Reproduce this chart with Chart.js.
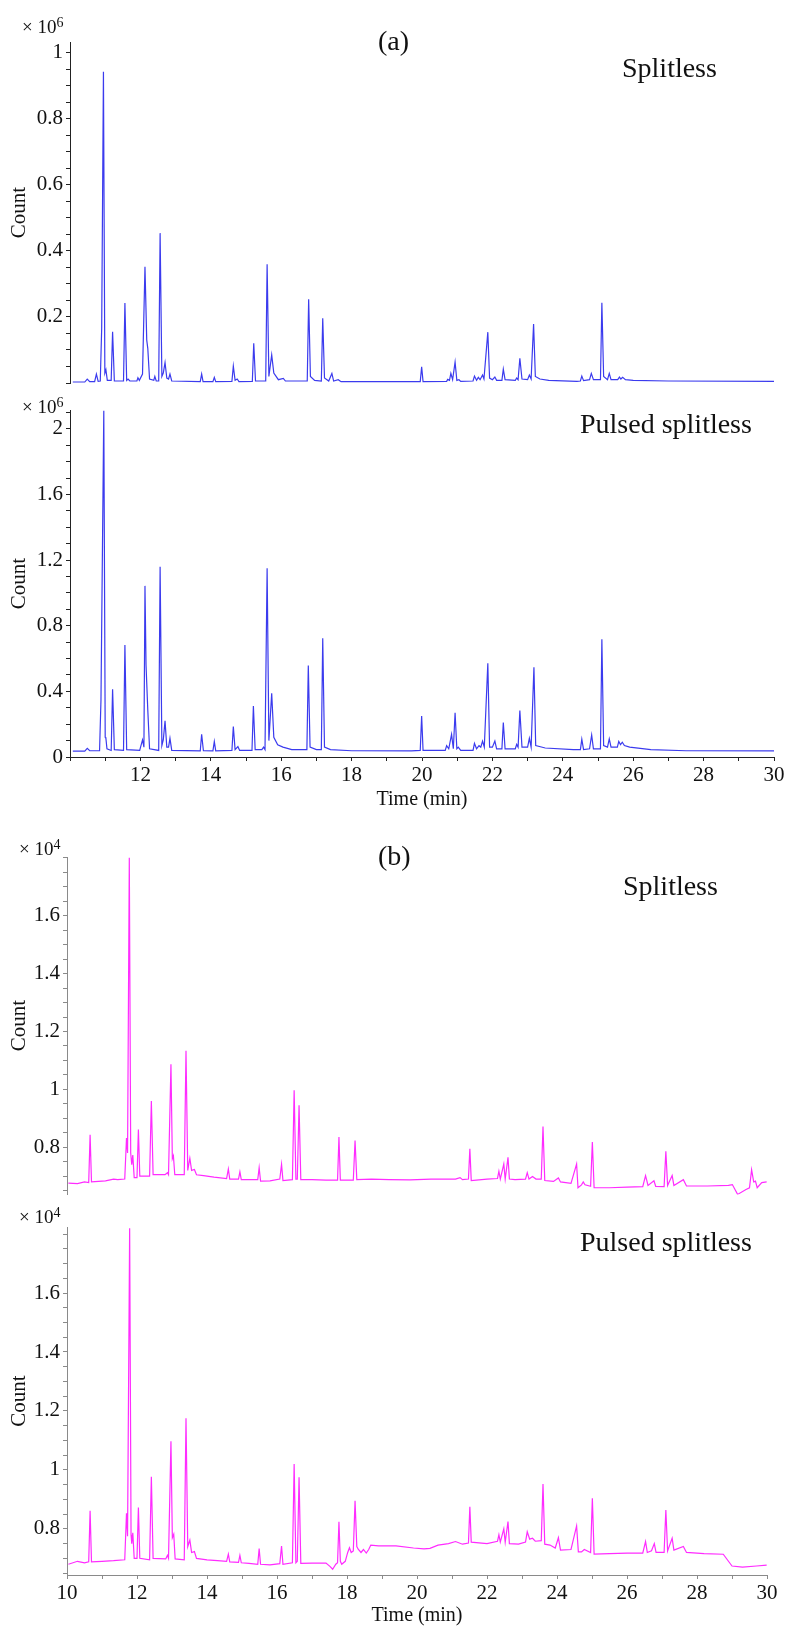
<!DOCTYPE html>
<html>
<head>
<meta charset="utf-8">
<script src="https://cdn.jsdelivr.net/npm/chart.js@4.4.1/dist/chart.umd.min.js"></script>
<style>
  body { margin: 0; background: #fff; }
  #page { position: relative; width: 789px; height: 1626px; overflow: hidden; font-family: "Liberation Serif", "Times New Roman", serif; color: #111; }
  #page canvas { position: absolute; left: 0; }
  .lbl { position: absolute; white-space: nowrap; font-size: 28px; line-height: 28px; }
  .mult { position: absolute; white-space: nowrap; font-size: 19px; line-height: 19px; }
  .mult sup { font-size: 14px; vertical-align: 6px; line-height: 0; }
</style>
</head>
<body>
<div id="page">
  <canvas id="aSplit" width="789" height="380" style="top:20px"></canvas>
  <canvas id="aPulsed" width="789" height="418" style="top:392px"></canvas>
  <canvas id="bSplit" width="789" height="375" style="top:835px"></canvas>
  <canvas id="bPulsed" width="789" height="421" style="top:1205px"></canvas>

  <div class="lbl" style="left:378px;top:27px">(a)</div>
  <div class="lbl" style="left:622px;top:54px">Splitless</div>
  <div class="lbl" style="left:580px;top:410px">Pulsed splitless</div>
  <div class="lbl" style="left:378px;top:842px">(b)</div>
  <div class="lbl" style="left:623px;top:872px">Splitless</div>
  <div class="lbl" style="left:580px;top:1228px">Pulsed splitless</div>

  <div class="mult" style="left:22px;top:17px">× 10<sup>6</sup></div>
  <div class="mult" style="left:22px;top:397px">× 10<sup>6</sup></div>
  <div class="mult" style="left:19px;top:839px">× 10<sup>4</sup></div>
  <div class="mult" style="left:19px;top:1207px">× 10<sup>4</sup></div>
</div>

<script>
// ---- (a) chromatograms, counts in units of 10^6 ----
const aSplitTime = [10.08,10.42,10.49,10.56,10.70,10.75,10.80,10.86,10.90,10.95,10.99,11.02,11.06,11.17,11.21,11.26,
  11.52,11.56,11.61,11.65,11.70,11.90,11.93,11.97,12.06,12.13,12.18,12.21,12.26,12.38,12.41,12.45,12.52,12.56,12.61,
  12.65,12.70,12.75,12.80,12.84,12.89,13.70,13.74,13.78,14.06,14.10,14.14,14.60,14.64,14.69,14.75,14.80,15.18,15.22,
  15.27,15.56,15.60,15.65,15.73,15.79,15.85,15.92,16.06,16.12,16.74,16.78,16.83,16.95,17.14,17.18,17.23,17.35,17.44,
  17.49,17.62,17.70,19.95,19.99,20.03,20.70,20.73,20.78,20.82,20.87,20.94,20.99,21.05,21.10,21.45,21.49,21.55,21.60,
  21.65,21.72,21.76,21.87,21.92,22.00,22.07,22.12,22.27,22.31,22.36,22.65,22.69,22.73,22.78,22.84,23.00,23.05,23.10,
  23.17,23.22,23.35,23.60,24.40,24.50,24.54,24.59,24.76,24.81,24.87,25.07,25.11,25.16,25.27,25.32,25.37,25.56,25.61,
  25.65,25.70,25.78,26.00,27.00,30.00];
const aSplitCount = [0.003,0.003,0.012,0.004,0.004,0.027,0.005,0.006,0.165,0.943,0.030,0.040,0.008,0.008,0.155,0.006,
  0.006,0.242,0.008,0.012,0.006,0.006,0.016,0.008,0.027,0.352,0.130,0.105,0.012,0.008,0.020,0.006,0.006,0.454,0.020,
  0.030,0.062,0.015,0.012,0.027,0.006,0.004,0.027,0.004,0.004,0.017,0.004,0.005,0.051,0.008,0.012,0.004,0.005,0.120,
  0.006,0.006,0.360,0.020,0.085,0.030,0.021,0.010,0.014,0.006,0.006,0.254,0.020,0.008,0.006,0.196,0.015,0.006,0.029,
  0.006,0.010,0.004,0.004,0.049,0.004,0.005,0.011,0.008,0.029,0.010,0.063,0.008,0.010,0.005,0.006,0.021,0.008,0.017,
  0.010,0.024,0.012,0.154,0.015,0.010,0.018,0.008,0.008,0.042,0.010,0.008,0.015,0.010,0.075,0.012,0.010,0.024,0.012,
  0.179,0.020,0.012,0.008,0.005,0.006,0.021,0.007,0.010,0.029,0.010,0.010,0.243,0.020,0.010,0.029,0.010,0.010,0.018,
  0.012,0.017,0.010,0.008,0.006,0.005];

const aPulsedTime = [10.08,10.42,10.49,10.56,10.84,10.88,10.96,11.00,11.02,11.05,11.17,11.21,11.26,11.52,11.56,11.61,
  11.98,12.06,12.10,12.13,12.16,12.21,12.26,12.52,12.56,12.61,12.65,12.70,12.75,12.80,12.84,12.89,13.70,13.74,13.79,
  14.06,14.10,14.14,14.60,14.64,14.69,14.77,14.82,15.17,15.21,15.26,15.45,15.50,15.54,15.60,15.65,15.73,15.79,15.90,
  16.05,16.30,16.73,16.77,16.82,17.00,17.14,17.18,17.23,17.40,18.00,19.70,19.95,19.99,20.03,20.66,20.70,20.76,20.84,
  20.89,20.94,20.99,21.03,21.10,21.45,21.49,21.55,21.62,21.67,21.72,21.77,21.87,21.92,22.00,22.07,22.12,22.27,22.31,
  22.36,22.65,22.69,22.73,22.78,22.84,23.00,23.05,23.10,23.18,23.23,23.50,24.30,24.50,24.54,24.59,24.76,24.82,24.87,
  25.07,25.11,25.16,25.27,25.32,25.37,25.55,25.59,25.64,25.69,25.75,25.90,26.50,27.50,30.00];
const aPulsedCount = [0.036,0.036,0.053,0.038,0.038,0.348,2.110,0.120,0.114,0.050,0.040,0.413,0.045,0.040,0.683,0.045,
  0.040,0.104,0.060,1.043,0.561,0.287,0.050,0.040,1.160,0.070,0.104,0.220,0.060,0.060,0.114,0.040,0.037,0.138,0.038,
  0.037,0.094,0.038,0.040,0.185,0.045,0.063,0.040,0.040,0.311,0.045,0.045,0.060,0.045,1.150,0.100,0.388,0.120,0.075,
  0.060,0.045,0.045,0.557,0.060,0.045,0.045,0.724,0.060,0.045,0.038,0.037,0.040,0.250,0.040,0.040,0.069,0.050,0.138,
  0.050,0.270,0.050,0.060,0.040,0.040,0.083,0.050,0.069,0.060,0.097,0.060,0.571,0.060,0.060,0.097,0.050,0.050,0.210,
  0.050,0.050,0.077,0.060,0.283,0.060,0.060,0.114,0.060,0.547,0.070,0.055,0.045,0.045,0.108,0.045,0.050,0.134,0.050,
  0.050,0.717,0.070,0.060,0.110,0.060,0.060,0.095,0.075,0.090,0.070,0.060,0.045,0.038,0.037];

// ---- (b) chromatograms, counts in units of 10^4 ----
const bSplitTime = [10.04,10.30,10.50,10.62,10.66,10.70,10.90,11.10,11.33,11.45,11.65,11.70,11.73,11.78,11.82,11.85,
  11.88,11.92,12.00,12.04,12.08,12.36,12.41,12.46,12.80,12.87,12.90,12.97,13.01,13.04,13.08,13.35,13.40,13.45,13.51,
  13.56,13.64,13.70,13.90,14.20,14.56,14.61,14.65,14.90,14.94,14.98,15.20,15.45,15.49,15.53,15.80,16.08,16.13,16.17,
  16.44,16.49,16.54,16.58,16.63,16.68,17.00,17.40,17.73,17.77,17.81,18.18,18.23,18.28,18.70,19.20,19.80,20.40,21.10,
  21.23,21.30,21.47,21.51,21.55,22.00,22.30,22.34,22.38,22.48,22.52,22.60,22.64,22.80,23.10,23.15,23.20,23.30,23.40,
  23.55,23.60,23.65,23.90,24.04,24.10,24.40,24.56,24.60,24.70,24.75,24.80,24.96,25.01,25.06,25.50,26.00,26.45,26.53,
  26.60,26.77,26.82,27.06,27.11,27.16,27.29,27.34,27.61,27.70,28.30,28.90,29.01,29.16,29.40,29.50,29.56,29.62,29.67,
  29.72,29.85,29.99];
const bSplitCount = [0.676,0.674,0.680,0.678,0.843,0.680,0.682,0.684,0.690,0.688,0.690,0.832,0.780,1.800,0.780,0.740,
  0.773,0.695,0.695,0.861,0.700,0.700,0.960,0.705,0.705,0.712,0.705,1.087,0.760,0.770,0.705,0.705,1.133,0.720,0.762,
  0.720,0.723,0.705,0.702,0.697,0.692,0.725,0.690,0.690,0.715,0.688,0.688,0.688,0.729,0.683,0.684,0.690,0.741,0.685,
  0.688,0.997,0.690,0.690,0.945,0.688,0.688,0.686,0.686,0.835,0.686,0.686,0.823,0.688,0.690,0.688,0.687,0.690,0.690,
  0.695,0.688,0.690,0.795,0.685,0.690,0.692,0.717,0.690,0.742,0.690,0.765,0.690,0.688,0.690,0.712,0.690,0.699,0.690,
  0.690,0.872,0.685,0.682,0.694,0.680,0.675,0.742,0.660,0.670,0.680,0.670,0.665,0.818,0.660,0.660,0.662,0.664,0.702,
  0.668,0.684,0.665,0.664,0.786,0.668,0.702,0.668,0.688,0.666,0.666,0.668,0.671,0.637,0.654,0.660,0.722,0.680,0.683,
  0.660,0.678,0.680];

const bPulsedTime = [10.04,10.30,10.50,10.62,10.66,10.70,11.00,11.33,11.65,11.70,11.73,11.79,11.83,11.85,11.88,11.92,
  12.00,12.04,12.08,12.36,12.41,12.46,12.82,12.87,12.90,12.97,13.01,13.05,13.09,13.35,13.40,13.45,13.51,13.56,13.64,
  13.70,14.00,14.30,14.56,14.61,14.65,14.90,14.94,14.98,15.20,15.45,15.49,15.53,15.80,16.08,16.13,16.17,16.44,16.49,
  16.54,16.58,16.63,16.68,17.00,17.40,17.52,17.59,17.68,17.73,17.77,17.81,17.85,17.95,18.02,18.07,18.12,18.18,18.23,
  18.28,18.32,18.40,18.47,18.55,18.62,18.68,18.90,19.40,19.90,20.20,20.37,20.60,20.90,21.10,21.30,21.47,21.51,21.55,
  22.00,22.30,22.34,22.38,22.48,22.52,22.60,22.64,22.90,23.10,23.15,23.22,23.30,23.38,23.55,23.60,23.65,23.80,23.95,
  24.04,24.10,24.40,24.56,24.61,24.70,24.78,24.96,25.01,25.06,25.50,26.00,26.45,26.53,26.58,26.70,26.78,26.83,27.06,
  27.11,27.16,27.29,27.34,27.61,27.70,28.20,28.75,29.00,29.30,29.70,29.99];
const bPulsedCount = [0.680,0.690,0.685,0.688,0.861,0.688,0.690,0.692,0.695,0.853,0.775,1.820,0.780,0.750,0.787,0.700,
  0.700,0.872,0.700,0.695,0.977,0.700,0.698,0.710,0.700,1.097,0.770,0.782,0.698,0.695,1.175,0.740,0.762,0.720,0.723,
  0.700,0.695,0.692,0.690,0.714,0.688,0.686,0.710,0.685,0.683,0.680,0.733,0.680,0.678,0.682,0.742,0.680,0.685,1.020,
  0.685,0.690,0.975,0.683,0.684,0.684,0.672,0.663,0.680,0.685,0.824,0.690,0.680,0.690,0.720,0.736,0.720,0.725,0.895,
  0.740,0.731,0.720,0.730,0.718,0.730,0.745,0.742,0.742,0.735,0.732,0.734,0.745,0.750,0.757,0.748,0.752,0.875,0.755,
  0.750,0.758,0.780,0.755,0.800,0.755,0.825,0.750,0.748,0.755,0.790,0.765,0.768,0.758,0.760,0.952,0.748,0.745,0.735,
  0.770,0.728,0.730,0.810,0.722,0.722,0.730,0.720,0.904,0.714,0.716,0.718,0.718,0.757,0.720,0.726,0.750,0.720,0.720,
  0.864,0.725,0.768,0.728,0.740,0.720,0.716,0.714,0.674,0.670,0.674,0.677];

// axis ranges and labelled ticks
const timeRange = [10, 30];
const timeLabelsA = [12, 14, 16, 18, 20, 22, 24, 26, 28, 30];
const timeLabelsB = [10, 12, 14, 16, 18, 20, 22, 24, 26, 28, 30];
const aSplitRange = [0, 1.033];
const aSplitLabels = [0.2, 0.4, 0.6, 0.8, 1];
const aPulsedRange = [0, 2.115];
const aPulsedLabels = [0, 0.4, 0.8, 1.2, 1.6, 2];
const bSplitRange = [0.637, 1.803];
const bSplitLabels = [0.8, 1, 1.2, 1.4, 1.6];
const bPulsedRange = [0.6435, 1.824];
const bPulsedLabels = [0.8, 1, 1.2, 1.4, 1.6];

const FONT = '"Liberation Serif", "Times New Roman", serif';
const BLUE = '#3b3bee';
const MAGENTA = '#ff2cff';

function points(times, counts) {
  return times.map((t, i) => ({ x: t, y: counts[i] }));
}

function stepTicks(min, max, step) {
  const out = [];
  for (let v = Math.ceil(min / step - 1e-6) * step; v <= max + 1e-9; v += step) out.push(+v.toFixed(4));
  return out;
}

function hasLabel(list, v) {
  return list.some(l => Math.abs(l - v) < 1e-6);
}

function makeChart(id, o) {
  const yTicks = stepTicks(o.yRange[0], o.yRange[1], o.yStep);
  const xTicks = stepTicks(timeRange[0], timeRange[1], 1);
  return new Chart(document.getElementById(id), {
    type: 'line',
    data: {
      datasets: [{
        data: points(o.times, o.counts),
        borderColor: o.color,
        borderWidth: 1.2,
        pointRadius: 0,
        tension: 0,
        fill: false
      }]
    },
    options: {
      responsive: false,
      animation: false,
      devicePixelRatio: 1,
      layout: { padding: o.padding },
      plugins: { legend: { display: false }, tooltip: { enabled: false } },
      scales: {
        x: {
          type: 'linear',
          display: o.xLabels !== null,
          min: timeRange[0],
          max: timeRange[1],
          border: { color: o.axisColor, width: 1 },
          grid: { drawOnChartArea: false, tickLength: 4, color: o.axisColor },
          afterBuildTicks: s => { s.ticks = xTicks.map(v => ({ value: v })); },
          afterFit: s => { s.height = o.xHeight || 0; },
          ticks: {
            autoSkip: false, maxRotation: 0, padding: 2, color: '#111',
            font: { family: FONT, size: 21 },
            callback: v => (o.xLabels && hasLabel(o.xLabels, v)) ? String(v) : ''
          },
          title: {
            display: true, text: 'Time (min)', color: '#111', padding: 0,
            font: { family: FONT, size: 20, lineHeight: 1 }
          }
        },
        y: {
          type: 'linear',
          min: o.yRange[0],
          max: o.yRange[1],
          border: { color: o.axisColor, width: 1 },
          grid: { drawOnChartArea: false, tickLength: 4, color: o.axisColor },
          afterBuildTicks: s => { s.ticks = yTicks.map(v => ({ value: v })); },
          afterFit: s => { s.width = o.left; },
          ticks: {
            autoSkip: false, padding: 3, color: '#111',
            font: { family: FONT, size: 21 },
            callback: v => hasLabel(o.yLabels, v) ? String(+v.toFixed(2)) : ''
          },
          title: {
            display: true, text: 'Count', color: '#111', padding: { top: 9, bottom: 0 },
            font: { family: FONT, size: 21, lineHeight: 1 }
          }
        }
      }
    }
  });
}

makeChart('aSplit', {
  times: aSplitTime, counts: aSplitCount, color: BLUE, axisColor: '#222',
  yRange: aSplitRange, yStep: 0.05, yLabels: aSplitLabels, xLabels: null,
  left: 70, padding: { top: 22, right: 15, bottom: 17, left: 0 }
});
makeChart('aPulsed', {
  times: aPulsedTime, counts: aPulsedCount, color: BLUE, axisColor: '#222',
  yRange: aPulsedRange, yStep: 0.1, yLabels: aPulsedLabels, xLabels: timeLabelsA,
  left: 70, xHeight: 53, padding: { top: 18, right: 15, bottom: 0, left: 0 }
});
makeChart('bSplit', {
  times: bSplitTime, counts: bSplitCount, color: MAGENTA, axisColor: '#8a8a8a',
  yRange: bSplitRange, yStep: 0.05, yLabels: bSplitLabels, xLabels: null,
  left: 67, padding: { top: 22, right: 22, bottom: 10, left: 0 }
});
makeChart('bPulsed', {
  times: bPulsedTime, counts: bPulsedCount, color: MAGENTA, axisColor: '#8a8a8a',
  yRange: bPulsedRange, yStep: 0.05, yLabels: bPulsedLabels, xLabels: timeLabelsB,
  left: 67, xHeight: 51, padding: { top: 22, right: 22, bottom: 0, left: 0 }
});
</script>
</body>
</html>
